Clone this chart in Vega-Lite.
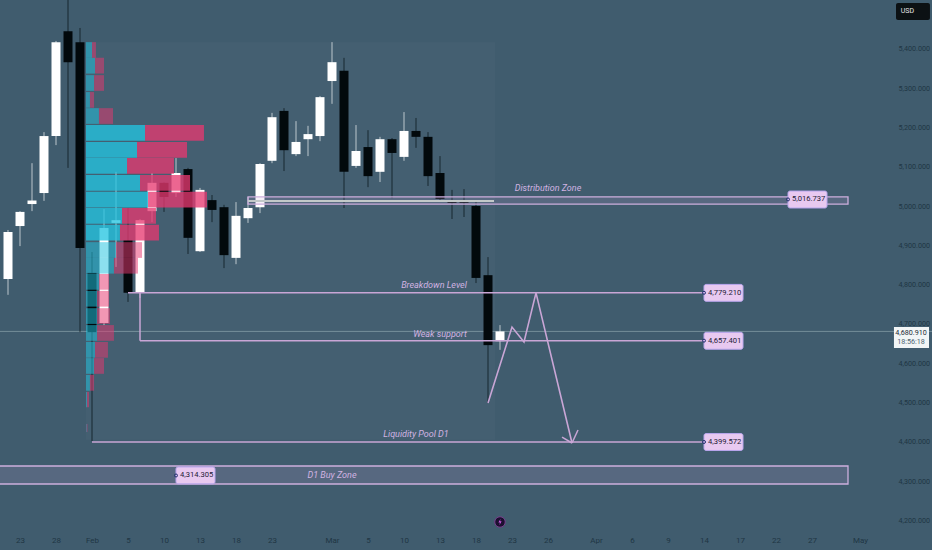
{
"$schema":"https://vega.github.io/schema/vega-lite/v6.json",
"width":932,"height":550,"padding":0,"autosize":"none","background":"#405c6e",
"config":{"view":{"stroke":null},"axis":{"labelFont":"Roboto"}},
"datasets":{
"candles":[
{"i":-1,"o":4814,"h":4939,"l":4774,"c":4934,"dir":"up"},
{"i":0,"o":4949,"h":4987,"l":4898,"c":4985,"dir":"up"},
{"i":1,"o":5005,"h":5109,"l":4987,"c":5014,"dir":"up"},
{"i":2,"o":5033,"h":5188,"l":5013,"c":5178,"dir":"up"},
{"i":3,"o":5178,"h":5420,"l":5155,"c":5417,"dir":"up"},
{"i":4,"o":5445,"h":5530,"l":5097,"c":5366,"dir":"down"},
{"i":5,"o":5417,"h":5453,"l":4679,"c":4893,"dir":"down"},
{"i":6,"o":4830,"h":4883,"l":4402,"c":4679,"dir":"down"},
{"i":7,"o":4702,"h":4992,"l":4697,"c":4944,"dir":"up"},
{"i":8,"o":4957,"h":5087,"l":4845,"c":4964,"dir":"up"},
{"i":9,"o":4913,"h":4995,"l":4756,"c":4779,"dir":"down"},
{"i":10,"o":4779,"h":4967,"l":4766,"c":4964,"dir":"up"},
{"i":11,"o":4987,"h":5084,"l":4959,"c":5059,"dir":"up"},
{"i":12,"o":5059,"h":5060,"l":4985,"c":5023,"dir":"down"},
{"i":13,"o":5033,"h":5122,"l":5023,"c":5084,"dir":"up"},
{"i":14,"o":5094,"h":5097,"l":4878,"c":4919,"dir":"down"},
{"i":15,"o":4885,"h":5046,"l":4883,"c":5041,"dir":"up"},
{"i":16,"o":5015,"h":5028,"l":4959,"c":4990,"dir":"down"},
{"i":17,"o":4997,"h":5003,"l":4842,"c":4875,"dir":"down"},
{"i":18,"o":4868,"h":5010,"l":4852,"c":4975,"dir":"up"},
{"i":19,"o":4969,"h":5023,"l":4957,"c":4995,"dir":"up"},
{"i":20,"o":4997,"h":5109,"l":4982,"c":5107,"dir":"up"},
{"i":21,"o":5115,"h":5237,"l":5109,"c":5226,"dir":"up"},
{"i":22,"o":5242,"h":5249,"l":5089,"c":5142,"dir":"down"},
{"i":23,"o":5132,"h":5216,"l":5127,"c":5163,"dir":"up"},
{"i":24,"o":5170,"h":5204,"l":5127,"c":5183,"dir":"up"},
{"i":25,"o":5178,"h":5280,"l":5165,"c":5277,"dir":"up"},
{"i":26,"o":5318,"h":5417,"l":5260,"c":5366,"dir":"up"},
{"i":27,"o":5344,"h":5377,"l":4995,"c":5087,"dir":"down"},
{"i":28,"o":5102,"h":5206,"l":5097,"c":5140,"dir":"up"},
{"i":29,"o":5150,"h":5193,"l":5048,"c":5076,"dir":"down"},
{"i":30,"o":5087,"h":5176,"l":5061,"c":5170,"dir":"up"},
{"i":31,"o":5170,"h":5173,"l":5020,"c":5135,"dir":"down"},
{"i":32,"o":5125,"h":5239,"l":5115,"c":5191,"dir":"up"},
{"i":33,"o":5191,"h":5224,"l":5148,"c":5176,"dir":"down"},
{"i":34,"o":5176,"h":5188,"l":5051,"c":5076,"dir":"down"},
{"i":35,"o":5084,"h":5127,"l":5015,"c":5018,"dir":"down"},
{"i":36,"o":5013,"h":5041,"l":4967,"c":5008,"dir":"down"},
{"i":37,"o":5010,"h":5043,"l":4972,"c":5008,"dir":"down"},
{"i":38,"o":5000,"h":5013,"l":4804,"c":4817,"dir":"down"},
{"i":39,"o":4824,"h":4870,"l":4499,"c":4646,"dir":"down"},
{"i":40,"o":4656,"h":4697,"l":4634,"c":4680.91,"dir":"up"}
],
"profile":[
{"k":0,"base":5.5,"top":5417,"bot":5377,"teal":6.0,"pink":6.33,"area":"out"},
{"k":1,"base":5.5,"top":5377,"bot":5337,"teal":6.25,"pink":7.0,"area":"out"},
{"k":2,"base":5.5,"top":5333,"bot":5293,"teal":6.17,"pink":7.0,"area":"out"},
{"k":3,"base":5.5,"top":5290,"bot":5250,"teal":5.83,"pink":6.17,"area":"out"},
{"k":4,"base":5.5,"top":5249,"bot":5209,"teal":6.58,"pink":7.75,"area":"out"},
{"k":5,"base":5.5,"top":5206,"bot":5166,"teal":10.42,"pink":15.33,"area":"in"},
{"k":6,"base":5.5,"top":5163,"bot":5123,"teal":9.75,"pink":13.92,"area":"in"},
{"k":7,"base":5.5,"top":5122,"bot":5082,"teal":8.92,"pink":12.83,"area":"in"},
{"k":8,"base":5.5,"top":5079,"bot":5039,"teal":10,"pink":14.17,"area":"in"},
{"k":9,"base":5.5,"top":5036,"bot":4996,"teal":10.67,"pink":15.58,"area":"in"},
{"k":10,"base":5.5,"top":4995,"bot":4955,"teal":8.5,"pink":11.33,"area":"in"},
{"k":11,"base":5.5,"top":4952,"bot":4912,"teal":8.33,"pink":11.58,"area":"in"},
{"k":12,"base":5.5,"top":4908,"bot":4868,"teal":8,"pink":10.17,"area":"out"},
{"k":13,"base":5.5,"top":4868,"bot":4828,"teal":7.83,"pink":9.83,"area":"out"},
{"k":14,"base":5.5,"top":4827,"bot":4787,"teal":6.58,"pink":7.42,"area":"out"},
{"k":15,"base":5.5,"top":4784,"bot":4744,"teal":6.42,"pink":7.42,"area":"out"},
{"k":16,"base":5.5,"top":4740,"bot":4700,"teal":6.42,"pink":7.5,"area":"out"},
{"k":17,"base":5.5,"top":4697,"bot":4657,"teal":6.42,"pink":7.83,"area":"out"},
{"k":18,"base":5.5,"top":4654,"bot":4614,"teal":6.25,"pink":7.33,"area":"out"},
{"k":19,"base":5.5,"top":4613,"bot":4573,"teal":6.17,"pink":7.0,"area":"out"},
{"k":20,"base":5.5,"top":4570,"bot":4530,"teal":5.83,"pink":6.17,"area":"out"},
{"k":21,"base":5.5,"top":4527,"bot":4488,"teal":5.58,"pink":5.75,"area":"out"},
{"k":22,"base":5.5,"top":4445,"bot":4425,"teal":5.55,"pink":5.62,"area":"out"}
],
"zones":[
{"name":"Distribution","i0":19,"i1":69,"p0":5023,"p1":5005},
{"name":"D1 Buy","i0":-3,"i1":69,"p0":4338.4,"p1":4292.6}
],
"segments":[
{"i0":9,"i1":57.08,"p0":4779.21,"p1":4779.21},
{"i0":10,"i1":10,"p0":4779.21,"p1":4657.4},
{"i0":10,"i1":57.08,"p0":4657.4,"p1":4657.4},
{"i0":6,"i1":57.08,"p0":4399.57,"p1":4399.57},
{"i0":45.17,"i1":46,"p0":4412,"p1":4397},
{"i0":46,"i1":46.5,"p0":4397,"p1":4430}
],
"path":[
{"n":1,"i":39,"p":4499},
{"n":2,"i":41,"p":4692},
{"n":3,"i":42,"p":4654},
{"n":4,"i":43,"p":4779},
{"n":5,"i":46,"p":4397}
],
"tags":[
{"label":"5,016.737","i0":64,"i1":67.25,"ic":65.72,"pc":5016.737,"p0":5038,"p1":4995},
{"label":"4,779.210","i0":57,"i1":60.25,"ic":58.72,"pc":4779.21,"p0":4800.5,"p1":4757.5},
{"label":"4,657.401","i0":57,"i1":60.25,"ic":58.72,"pc":4657.401,"p0":4678.5,"p1":4635.5},
{"label":"4,399.572","i0":57,"i1":60.25,"ic":58.72,"pc":4399.572,"p0":4421,"p1":4378},
{"label":"4,314.305","i0":13,"i1":16.25,"ic":14.72,"pc":4314.305,"p0":4336,"p1":4293}
],
"notes":[
{"label":"Distribution Zone","i":44,"p":5046},
{"label":"Breakdown Level","i":34.5,"p":4798},
{"label":"Weak support","i":35,"p":4674},
{"label":"Liquidity Pool D1","i":33,"p":4420},
{"label":"D1 Buy Zone","i":26,"p":4315}
]
},
"layer":[
{"data":{"values":[{"i0":5.5,"i1":39.6,"p0":5417,"p1":4405}]},
 "mark":{"type":"rect","fill":"#ffffff","opacity":0.025},
 "encoding":{
  "x":{"field":"i0","type":"quantitative","title":null,
   "scale":{"domain":[-1.6667,76],"nice":false,"zero":false,"padding":0},
   "axis":{"orient":"bottom","offset":-10,"values":[0,3,6,9,12,15,18,21,26,29,32,35,38,41,44,48,51,54,57,60,63,66,70],
     "labelExpr":"['23','28','Feb','5','10','13','18','23','Mar','5','10','13','18','23','26','Apr','6','9','14','17','22','27','May'][indexof([0,3,6,9,12,15,18,21,26,29,32,35,38,41,44,48,51,54,57,60,63,66,70],datum.value)]",
     "domain":false,"ticks":false,"grid":false,"labelPadding":0,"labelBaseline":"middle","labelFontSize":8,"labelColor":"#1f3644","labelOverlap":false,"labelFlush":false}},
  "x2":{"field":"i1"},
  "y":{"field":"p0","type":"quantitative","title":null,
   "scale":{"domain":[4124.7,5524.2],"nice":false,"zero":false,"padding":0},
   "axis":{"orient":"right","offset":-34,"values":[4200,4300,4400,4500,4600,4700,4800,4900,5000,5100,5200,5300,5400],"format":",.3f",
     "domain":false,"ticks":false,"grid":false,"labelPadding":0,"labelAlign":"left","labelBaseline":"middle","labelFontSize":7.2,"labelColor":"#1f3644","labelOverlap":false,"labelFlush":false}},
  "y2":{"field":"p1"}}},
{"data":{"values":[{"p":4680.91}]},
 "mark":{"type":"rule","stroke":"#9db3bb","strokeWidth":0.7,"opacity":0.8},
 "encoding":{"y":{"field":"p","type":"quantitative"}}},
{"data":{"name":"candles"},
 "mark":{"type":"rule","strokeWidth":1,"opacity":0.65,"clip":true},
 "encoding":{
  "x":{"field":"i","type":"quantitative"},
  "y":{"field":"l","type":"quantitative"},"y2":{"field":"h"},
  "color":{"field":"dir","type":"nominal","legend":null,"scale":{"domain":["up","down","clock","quote"],"range":["#ffffff","#02090c","#4c6472","#1d2c36"]}}}},
{"data":{"name":"candles"},
 "mark":{"type":"bar","size":9,"orient":"vertical"},
 "encoding":{
  "x":{"field":"i","type":"quantitative"},
  "y":{"field":"o","type":"quantitative"},"y2":{"field":"c"},
  "color":{"field":"dir","type":"nominal","legend":null}}},
{"data":{"name":"profile"},
 "mark":{"type":"rect","fill":"#23c4e1"},
 "encoding":{
  "x":{"field":"base","type":"quantitative"},"x2":{"field":"teal"},
  "y":{"field":"top","type":"quantitative"},"y2":{"field":"bot"},
  "opacity":{"field":"area","type":"nominal","legend":null,"scale":{"domain":["in","out"],"range":[0.77,0.52]}}}},
{"data":{"name":"profile"},
 "mark":{"type":"rect","fill":"#e63870"},
 "encoding":{
  "x":{"field":"teal","type":"quantitative"},"x2":{"field":"pink"},
  "y":{"field":"top","type":"quantitative"},"y2":{"field":"bot"},
  "opacity":{"field":"area","type":"nominal","legend":null}}},
{"data":{"name":"zones"},
 "mark":{"type":"rect","fill":"#c9a8dc","fillOpacity":0.17,"stroke":"#cdaedd","strokeWidth":1.3,"clip":true},
 "encoding":{
  "x":{"field":"i0","type":"quantitative"},"x2":{"field":"i1"},
  "y":{"field":"p0","type":"quantitative"},"y2":{"field":"p1"}}},
{"data":{"values":[{"i0":19,"i1":39.5,"p0":5015,"p1":5010}]},
 "mark":{"type":"rect","fill":"#c3c9c9"},
 "encoding":{
  "x":{"field":"i0","type":"quantitative"},"x2":{"field":"i1"},
  "y":{"field":"p0","type":"quantitative"},"y2":{"field":"p1"}}},
{"data":{"name":"segments"},
 "mark":{"type":"rule","stroke":"#c9a6d6","strokeWidth":1.5},
 "encoding":{
  "x":{"field":"i0","type":"quantitative"},"x2":{"field":"i1"},
  "y":{"field":"p0","type":"quantitative"},"y2":{"field":"p1"}}},
{"data":{"name":"path"},
 "mark":{"type":"line","stroke":"#c9a6d6","strokeWidth":1.6},
 "encoding":{
  "x":{"field":"i","type":"quantitative"},
  "y":{"field":"p","type":"quantitative"},
  "order":{"field":"n","type":"quantitative"}}},
{"data":{"name":"notes"},
 "mark":{"type":"text","font":"Roboto","fontSize":9,"fontStyle":"italic","fill":"#d1b3e2","align":"center","baseline":"middle"},
 "encoding":{
  "x":{"field":"i","type":"quantitative"},
  "y":{"field":"p","type":"quantitative"},
  "text":{"field":"label"}}},
{"data":{"name":"tags"},
 "mark":{"type":"rect","fill":"#e8c9f0","stroke":"#b9a6ee","strokeWidth":1,"cornerRadius":2},
 "encoding":{
  "x":{"field":"i0","type":"quantitative"},"x2":{"field":"i1"},
  "y":{"field":"p0","type":"quantitative"},"y2":{"field":"p1"}}},
{"data":{"name":"tags"},
 "mark":{"type":"point","filled":false,"stroke":"#23306e","strokeWidth":1,"size":9,"opacity":1},
 "encoding":{
  "x":{"field":"i0","type":"quantitative"},
  "y":{"field":"pc","type":"quantitative"}}},
{"data":{"name":"tags"},
 "mark":{"type":"text","font":"Roboto","fill":"#1d1a36","fontSize":7.6,"align":"center","baseline":"middle"},
 "encoding":{
  "x":{"field":"ic","type":"quantitative"},
  "y":{"field":"pc","type":"quantitative"},
  "text":{"field":"label"}}},
{"data":{"values":[{"i0":73,"i1":75.83,"p0":5516.5,"p1":5473}]},
 "mark":{"type":"rect","fill":"#0c1114","cornerRadius":2},
 "encoding":{
  "x":{"field":"i0","type":"quantitative"},"x2":{"field":"i1"},
  "y":{"field":"p0","type":"quantitative"},"y2":{"field":"p1"}}},
{"data":{"values":[{"i":73.4,"p":5495,"t":"USD"}]},
 "mark":{"type":"text","font":"Roboto","fill":"#e6e6e6","fontSize":7,"align":"left","baseline":"middle"},
 "encoding":{
  "x":{"field":"i","type":"quantitative"},
  "y":{"field":"p","type":"quantitative"},
  "text":{"field":"t"}}},
{"data":{"values":[{"i0":72.83,"i1":75.75,"p0":4692,"p1":4639}]},
 "mark":{"type":"rect","fill":"#f1f5f6"},
 "encoding":{
  "x":{"field":"i0","type":"quantitative"},"x2":{"field":"i1"},
  "y":{"field":"p0","type":"quantitative"},"y2":{"field":"p1"}}},
{"data":{"values":[{"i":74.25,"p":4678,"t":"4,680.910","c":"quote"},{"i":74.25,"p":4654,"t":"18:56:18","c":"clock"}]},
 "mark":{"type":"text","font":"Roboto","fontSize":7.2,"align":"center","baseline":"middle"},
 "encoding":{
  "x":{"field":"i","type":"quantitative"},
  "y":{"field":"p","type":"quantitative"},
  "text":{"field":"t"},
  "color":{"field":"c","type":"nominal","legend":null}}},
{"data":{"values":[{"i":40,"p":4196}]},
 "mark":{"type":"point","filled":true,"fill":"#1c1030","stroke":"#7a3f8e","strokeWidth":1,"size":110,"opacity":1},
 "encoding":{
  "x":{"field":"i","type":"quantitative"},
  "y":{"field":"p","type":"quantitative"}}},
{"data":{"values":[{"i":40,"p":4196}]},
 "mark":{"type":"point","filled":true,"fill":"#d255e8","size":40,"opacity":1,"strokeWidth":0,"shape":"M0.2,-1L-0.5,0.2L0,0.2L-0.2,1L0.5,-0.2L0,-0.2Z"},
 "encoding":{
  "x":{"field":"i","type":"quantitative"},
  "y":{"field":"p","type":"quantitative"}}}
]
}
